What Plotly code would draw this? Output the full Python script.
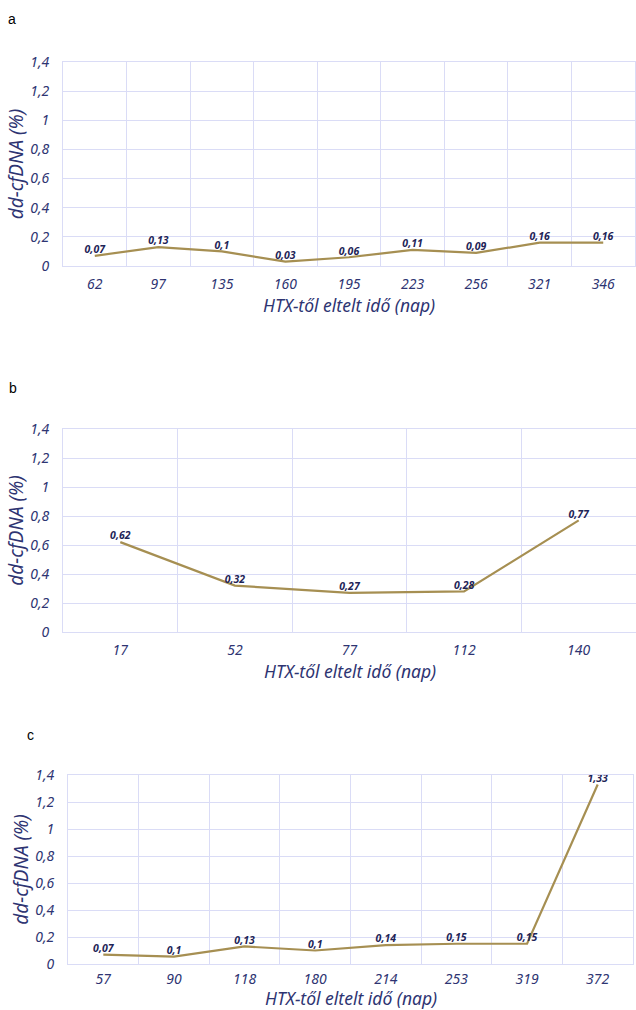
import plotly.graph_objects as go

W, H = 636, 1010

# ---- data ----
a_days = ["62", "97", "135", "160", "195", "223", "256", "321", "346"]
a_vals = [0.07, 0.13, 0.10, 0.03, 0.06, 0.11, 0.09, 0.16, 0.16]
a_text = ["0,07", "0,13", "0,1", "0,03", "0,06", "0,11", "0,09", "0,16", "0,16"]

b_days = ["17", "52", "77", "112", "140"]
b_vals = [0.62, 0.32, 0.27, 0.28, 0.77]
b_text = ["0,62", "0,32", "0,27", "0,28", "0,77"]

c_days = ["57", "90", "118", "180", "214", "253", "319", "372"]
c_vals = [0.07, 0.055, 0.13, 0.10, 0.14, 0.15, 0.15, 1.33]
c_text = ["0,07", "0,1", "0,13", "0,1", "0,14", "0,15", "0,15", "1,33"]

y_ticks = [0, 0.2, 0.4, 0.6, 0.8, 1.0, 1.2, 1.4]
y_tick_text = ["0", "0,2", "0,4", "0,6", "0,8", "1", "1,2", "1,4"]

x_title = "HTX-től eltelt idő (nap)"
y_title = "dd-cfDNA (%)"
panel_labels = ["a", "b", "c"]

LINE = "#A68F52"
NAVY = "#2E3472"
LABEL = "#1E2457"
GRID = "#DADCF6"
FONT = "Noto Sans"

# pixel layout of each panel: (left, right, top, bottom)
boxes = [(63, 635, 62, 266), (63, 636, 429, 632), (68, 633, 775, 964)]
label_pos = [(12, 19), (13, 388), (30, 735)]
xtitle_y = [305, 671, 998]
xtick_standoff = [5, 5, 2]

fig = go.Figure()
datasets = [(a_days, a_vals, a_text), (b_days, b_vals, b_text), (c_days, c_vals, c_text)]

for i, ((days, vals, txt), (l, r, t, b)) in enumerate(zip(datasets, boxes)):
    n = "" if i == 0 else str(i + 1)
    fig.add_trace(go.Scatter(
        x=days, y=vals, mode="lines+text", text=txt, textposition="top center",
        textfont=dict(family=FONT, size=10.5, color=LABEL, style="italic", weight="bold"),
        line=dict(color=LINE, width=2.2), cliponaxis=False, showlegend=False,
        xaxis="x" + n, yaxis="y" + n, hoverinfo="skip"))
    fig.update_layout(**{
        "xaxis" + n: dict(
            domain=[l / W, r / W], anchor="y" + n, type="category",
            range=[-0.5, len(days) - 0.5], automargin=False,
            tickson="boundaries", ticks="", showgrid=True, gridcolor=GRID, gridwidth=1,
            showline=True, linecolor=GRID, linewidth=1, mirror=True,
            ticklabelstandoff=xtick_standoff[i],
            tickfont=dict(family=FONT, size=14, color=NAVY, style="italic"),
            fixedrange=True),
        "yaxis" + n: dict(
            domain=[1 - b / H, 1 - t / H], anchor="x" + n, range=[0, 1.4],
            automargin=False,
            tickvals=y_ticks, ticktext=y_tick_text, showgrid=True, gridcolor=GRID,
            gridwidth=1, zeroline=False, showline=True, linecolor=GRID, mirror=True,
            tickfont=dict(family=FONT, size=14, color=NAVY, style="italic"),
            ticks="", ticklabelstandoff=10,
            title=dict(text=y_title, standoff=1,
                       font=dict(family=FONT, size=19, color=NAVY, style="italic")),
            fixedrange=True),
    })
    # x-axis title as paper annotation, centred under the plot area
    fig.add_annotation(text=x_title, x=(l + r) / 2 / W, y=1 - xtitle_y[i] / H,
                       xref="paper", yref="paper", showarrow=False,
                       xanchor="center", yanchor="middle",
                       font=dict(family=FONT, size=17.5, color=NAVY, style="italic"))
    lx, ly = label_pos[i]
    fig.add_annotation(text=panel_labels[i], x=lx / W, y=1 - ly / H, xref="paper",
                       yref="paper", showarrow=False, xanchor="center", yanchor="middle",
                       font=dict(family="Liberation Sans", size=14, color="black"))

fig.update_layout(width=W, height=H, margin=dict(l=0, r=0, t=0, b=0, autoexpand=False),
                  paper_bgcolor="white", plot_bgcolor="white")

fig.write_html("out.html", config={"displayModeBar": False},
               post_script="document.body.style.margin='0';")
